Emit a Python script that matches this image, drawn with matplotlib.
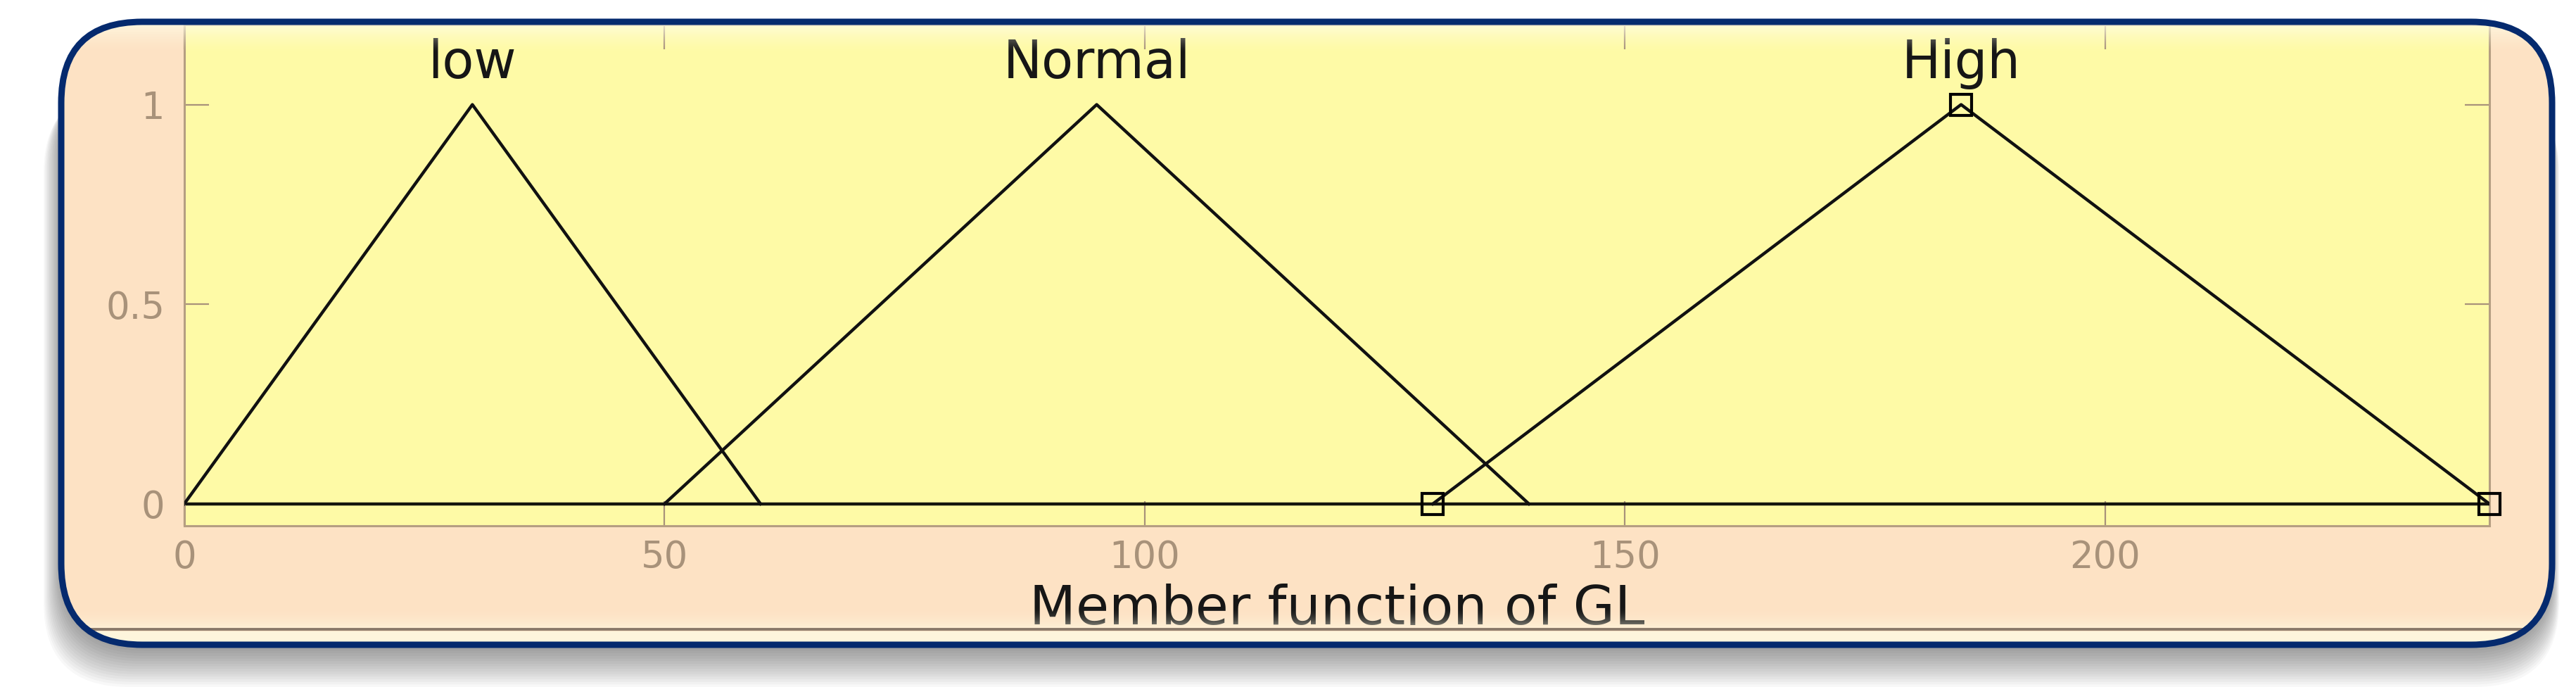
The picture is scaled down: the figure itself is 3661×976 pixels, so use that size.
import numpy as np
import matplotlib
matplotlib.use("Agg")
import matplotlib.pyplot as plt
from matplotlib.patches import FancyBboxPatch

# membership functions of GL (triangular: a, b, c)
mf_names = ['low', 'Normal', 'High']
mf_params = [[0, 30, 60], [50, 95, 140], [130, 185, 240]]
mf_shape = [0, 1, 0]
selected = 'High'

x_range = [0, 240]
x_ticks = [0, 50, 100, 150, 200]
y_ticks = [0, 0.5, 1]
y_ticklabels = ['0', '0.5', '1']
x_label = 'Member function of GL'

peach = '#fde2c4'
yellow = '#fefaa6'
navy = '#052a6e'
tan = '#a8927a'

fig = plt.figure(figsize=(36.62, 9.76), dpi=100)
fig.patch.set_facecolor('white')

# soft shadow under the rounded frame (mostly below, a little to the left)
for i in range(16):
    g = i / 15.0
    sh = FancyBboxPatch((0.87 - 0.25 * g, 0.55 - 0.55 * g), 35.40 + 0.35 * g, 8.3 + 0.2 * g,
                        boxstyle='round,pad=0,rounding_size=1.2',
                        transform=fig.dpi_scale_trans, facecolor='black',
                        edgecolor='none', alpha=0.028, zorder=-10)
    fig.patches.append(sh)

frame = FancyBboxPatch((0.87, 0.60), 35.40, 8.85,
                       boxstyle='round,pad=0,rounding_size=1.15',
                       transform=fig.dpi_scale_trans, facecolor=peach,
                       edgecolor='none', zorder=-5)
fig.patches.append(frame)

ax = fig.add_axes([0.0715, 0.2346, 0.8946, 0.7294])
ax.set_facecolor(yellow)

# baseline
ax.plot(x_range, [0, 0], color='#15150f', lw=3.2, zorder=2)

for name, p in zip(mf_names, mf_params):
    ax.plot(p, mf_shape, color='#111111', lw=3.2, zorder=3)
    ax.text(p[1], 1.067, name, ha='center', va='baseline', fontsize=53,
            color='#161616')
    if name == selected:
        ax.plot(p, mf_shape, ls='none', marker='s', ms=21, mfc='none',
                mec='black', mew=3.0, zorder=4, clip_on=False)

ax.set_xlim(x_range)
ax.set_ylim(-0.055, 1.2)
ax.set_xticks(x_ticks)
ax.set_yticks(y_ticks)
ax.set_yticklabels(y_ticklabels)
ax.tick_params(direction='in', length=25, width=1.6, color=tan, labelcolor=tan,
               labelsize=38, top=True, right=True)
ax.tick_params(axis='x', pad=14)
ax.tick_params(axis='y', pad=20)
for s in ax.spines.values():
    s.set_color('#b59e82')
    s.set_linewidth(2.2)

ax.set_xlabel(x_label, fontsize=55, color='#161616', va='baseline')
ax.xaxis.set_label_coords(0.5, -0.197)

# glossy overlay clipped to the frame
ov = fig.add_axes([0, 0, 1, 1], zorder=3)
ov.set_axis_off()
ov.patch.set_alpha(0)
h = 976
rows = np.arange(h)
alpha = np.zeros(h)
top = (rows >= 31) & (rows < 75)
alpha[top] = 0.85 * (1 - (rows[top] - 31) / 44.0) ** 1.5
low = (rows >= 860) & (rows < 892)
alpha[low] = 0.55 * ((rows[low] - 860) / 32.0) ** 2
band = (rows >= 897) & (rows < 916)
alpha[band] = 0.75
img = np.zeros((h, 1, 4))
img[:, 0, :3] = [1.0, 0.99, 0.9]
img[:, 0, 3] = alpha
im = ov.imshow(img, extent=[0, 1, 0, 1], aspect='auto', interpolation='bilinear',
               transform=ov.transAxes)
im.set_clip_path(frame)
gl = ov.plot([0, 1], [1 - 894 / 976, 1 - 894 / 976], color='#8a7a6a', lw=2.8,
             transform=ov.transAxes)[0]
gl.set_clip_path(frame)

# frame border on top of everything
border = FancyBboxPatch((0.87, 0.60), 35.40, 8.85,
                        boxstyle='round,pad=0,rounding_size=1.15',
                        transform=fig.dpi_scale_trans, facecolor='none',
                        edgecolor=navy, linewidth=6.5, zorder=10)
fig.patches.append(border)

fig.savefig('out.png', dpi=100, facecolor='white')
